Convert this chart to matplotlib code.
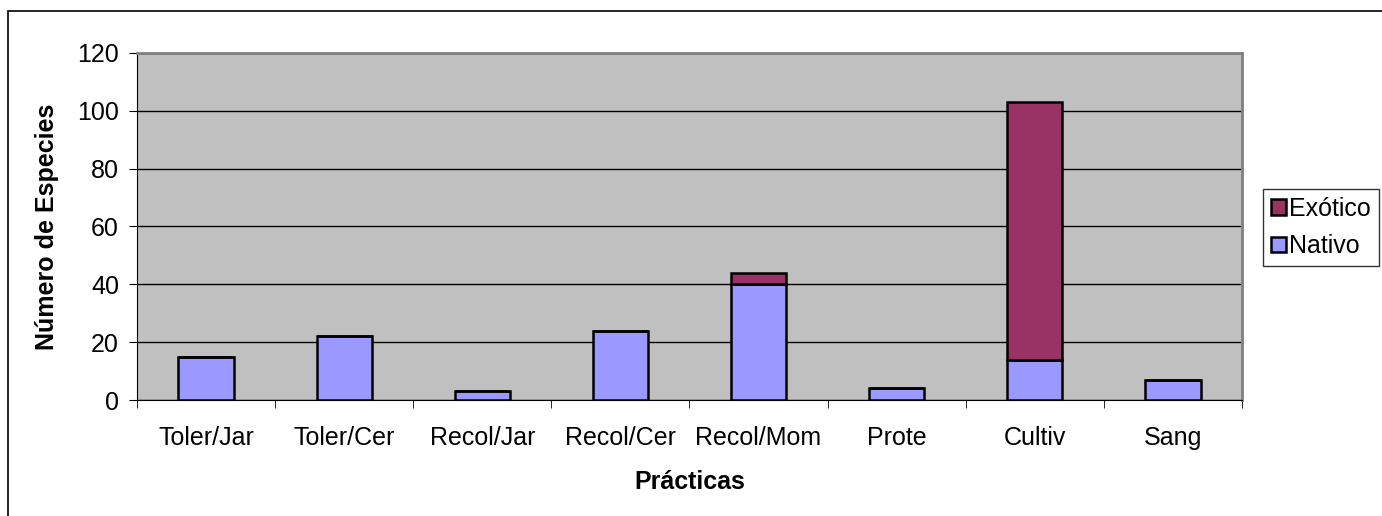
import matplotlib.pyplot as plt
import numpy as np
from matplotlib.patches import Rectangle

plt.rcParams['font.family'] = ['Liberation Sans', 'DejaVu Sans']

practicas = ["Toler/Jar", "Toler/Cer", "Recol/Jar", "Recol/Cer", "Recol/Mom",
             "Prote", "Cultiv", "Sang"]
nativo = [15, 22, 3, 24, 40, 4, 14, 7]
exotico = [0, 0, 0, 0, 4, 0, 89, 0]

FS = 18

fig = plt.figure(figsize=(13.82, 5.16), dpi=100)
ax = fig.add_axes([0.0991, 0.2248, 0.7996, 0.6725])
ax.set_facecolor('#c0c0c0')

x = np.arange(len(practicas))
ax.bar(x, nativo, width=0.4, color='#9999ff', edgecolor='black', linewidth=1.8,
       label='Nativo', zorder=3)
ax.bar(x, exotico, width=0.4, bottom=nativo, color='#993366', edgecolor='black',
       linewidth=1.8, label='Exótico', zorder=3)

ax.set_xlim(-0.5, len(practicas) - 0.5)
ax.set_ylim(0, 120)
ax.set_yticks(range(0, 121, 20))
ax.yaxis.grid(True, color='black', linewidth=1, zorder=1)

ax.set_xticks(x)
ax.set_xticklabels(practicas, fontsize=FS)
ax.set_xticks(np.arange(-0.5, len(practicas)), minor=True)
ax.tick_params(axis='x', which='major', length=0, pad=19)
ax.tick_params(axis='x', which='minor', length=6, direction='out')
ax.tick_params(axis='y', labelsize=FS, length=6, direction='out', pad=7)

for side in ['top', 'right']:
    ax.spines[side].set_color('#808080')
    ax.spines[side].set_linewidth(2)
ax.spines['left'].set_color('black')
ax.spines['bottom'].set_color('black')

ax.set_xlabel('Prácticas', fontsize=FS, fontweight='bold', labelpad=14)
ax.set_ylabel('Número de Especies', fontsize=FS, fontweight='bold', labelpad=13)

handles, labels = ax.get_legend_handles_labels()
leg = fig.legend(handles[::-1], labels[::-1], loc='upper left',
                 bbox_to_anchor=(1263 / 1382, 1 - 189 / 516), fontsize=FS,
                 frameon=True, fancybox=False, handlelength=0.6, handleheight=0.6,
                 handletextpad=0.15, borderpad=0.3, labelspacing=0.55,
                 borderaxespad=0)
leg.get_frame().set_edgecolor('black')
leg.get_frame().set_linewidth(1)

# outer chart frame
fig.patches.append(Rectangle((8 / 1382, -0.1), 1.2, 1 - 11 / 516 + 0.1,
                             transform=fig.transFigure, fill=False,
                             edgecolor='black', linewidth=1.2))

fig.savefig('out.png', dpi=100)
